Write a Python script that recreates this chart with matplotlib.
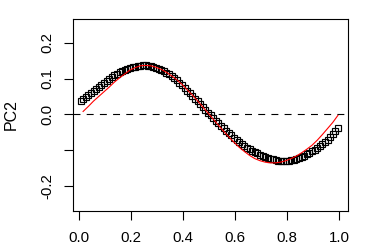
import matplotlib
matplotlib.use("Agg")
import matplotlib.pyplot as plt
import numpy as np

# Principal-curve points (open squares)
x_points = [0.005 + 0.01 * i for i in range(100)]
y_points = [
    0.0387, 0.0441, 0.0495, 0.0549, 0.0603,
    0.0659, 0.0717, 0.0775, 0.0833, 0.0891,
    0.0944, 0.0992, 0.1040, 0.1088, 0.1136,
    0.1177, 0.1210, 0.1240, 0.1267, 0.1293,
    0.1318, 0.1339, 0.1354, 0.1364, 0.1369,
    0.1370, 0.1363, 0.1348, 0.1328, 0.1303,
    0.1274, 0.1240, 0.1203, 0.1162, 0.1118,
    0.1072, 0.1013, 0.0950, 0.0885, 0.0818,
    0.0742, 0.0666, 0.0590, 0.0514, 0.0438,
    0.0361, 0.0283, 0.0205, 0.0127, 0.0049,
    -0.0027, -0.0101, -0.0175, -0.0249, -0.0323,
    -0.0393, -0.0459, -0.0525, -0.0591, -0.0657,
    -0.0717, -0.0771, -0.0825, -0.0879, -0.0933,
    -0.0979, -0.1017, -0.1055, -0.1093, -0.1131,
    -0.1164, -0.1190, -0.1216, -0.1242, -0.1266,
    -0.1288, -0.1302, -0.1311, -0.1314, -0.1313,
    -0.1305, -0.1292, -0.1274, -0.1253, -0.1232,
    -0.1200, -0.1160, -0.1120, -0.1080, -0.1040,
    -0.0993, -0.0939, -0.0885, -0.0831, -0.0777,
    -0.0709, -0.0627, -0.0545, -0.0463, -0.0381,
]

# Red reference curve
x_curve = [0.015 + 0.02 * i for i in range(50)]
y_curve = [
    0.008, 0.022, 0.037, 0.050, 0.063, 0.076, 0.090, 0.102, 0.113, 0.124,
    0.131, 0.136, 0.137, 0.136, 0.132, 0.126, 0.118, 0.108, 0.097, 0.084,
    0.069, 0.054, 0.038, 0.021, 0.004, -0.013, -0.030, -0.047, -0.063, -0.078,
    -0.092, -0.104, -0.115, -0.124, -0.130, -0.134, -0.136, -0.136, -0.134, -0.130,
    -0.124, -0.117, -0.108, -0.098, -0.087, -0.073, -0.057, -0.040, -0.023, -0.003,
]

x_ticks = [0.0, 0.2, 0.4, 0.6, 0.8, 1.0]
x_labels = ["0.0", "0.2", "0.4", "0.6", "0.8", "1.0"]
y_ticks = [-0.2, -0.1, 0.0, 0.1, 0.2]
y_labels = ["-0.2", "", "0.0", "0.1", "0.2"]
y_title = "PC2"

plt.rcParams['font.family'] = ['Liberation Sans', 'DejaVu Sans']
plt.rcParams['lines.scale_dashes'] = False

fig = plt.figure(figsize=(3.66, 2.47), dpi=100)
ax = fig.add_axes([72.7/366, 1 - 211/247, (348.3-72.7)/366, (211-18.7)/247])

ax.axhline(0, color='black', lw=0.8, ls=(0, (5, 4.5)), zorder=1)
ax.plot(x_points, y_points, ls='none', marker='s', ms=4.8, mfc='none',
        mec='black', mew=0.85, zorder=2)
ax.plot(x_curve, y_curve, color='red', lw=0.8, zorder=3)

ax.set_xlim(-0.025, 1.035)
ax.set_ylim(-0.271, 0.268)
ax.set_xticks(x_ticks)
ax.set_xticklabels(x_labels)
ax.set_yticks(y_ticks)
ax.set_yticklabels(y_labels, rotation=90, va='center')
for s in ax.spines.values():
    s.set_linewidth(0.8)
ax.tick_params(axis='both', direction='out', length=6.5, width=0.8,
               labelsize=10.8, colors='black')
ax.tick_params(axis='x', pad=8)
ax.tick_params(axis='y', pad=7)
ax.set_ylabel(y_title, fontsize=11.5)
ax.yaxis.label.set_va('center')
ax.yaxis.set_label_coords(-61/275.6, 0.5)

fig.savefig("out.png", dpi=100)
